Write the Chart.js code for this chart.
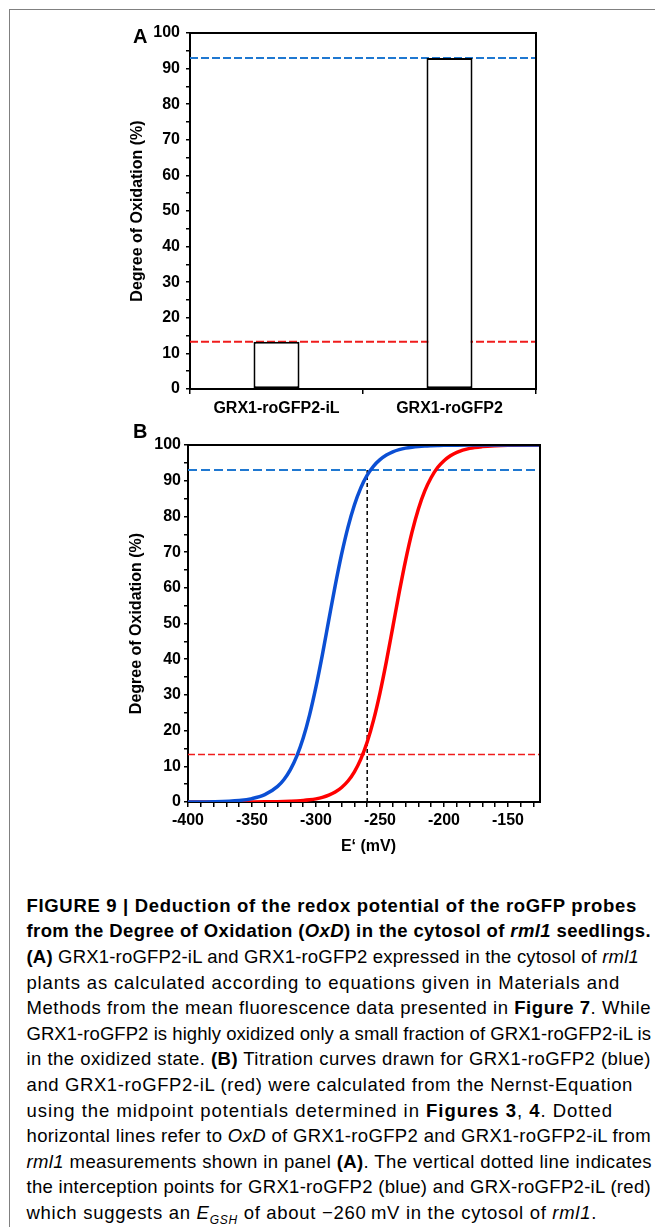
<!DOCTYPE html>
<html>
<head>
<meta charset="utf-8">
<script src="https://cdn.jsdelivr.net/npm/chart.js@4.4.0/dist/chart.umd.min.js"></script>
<style>
  html, body { margin: 0; padding: 0; background: #fff; }
  body { width: 655px; height: 1227px; position: relative; overflow: hidden; font-family: "Liberation Sans", Arial, sans-serif; color: #000; }
  .frame { position: absolute; left: 9px; top: 9px; width: 700px; height: 1300px; border-top: 1.5px solid #808080; border-left: 1.5px solid #808080; }
  canvas { position: absolute; left: 0; }
  #chartA { top: 0; }
  #chartB { top: 420px; }
  .panel { position: absolute; left: 133px; font-size: 20px; line-height: 20px; font-weight: bold; }
  .cap { position: absolute; left: 26.5px; font-size: 18.5px; line-height: 25.7px; white-space: nowrap; }
  .cap.h { font-weight: bold; }
</style>
</head>
<body>
<div class="frame"></div>
<canvas id="chartA" width="655" height="430"></canvas>
<canvas id="chartB" width="655" height="440"></canvas>
<div class="panel" style="top:26px">A</div>
<div class="panel" style="top:421px">B</div>

<div id="caption">
  <div class="cap h">FIGURE 9 | Deduction of the redox potential of the roGFP probes</div>
  <div class="cap h">from the Degree of Oxidation (<i>OxD</i>) in the cytosol of <i>rml1</i> seedlings.</div>
  <div class="cap"><b>(A)</b> GRX1-roGFP2-iL and GRX1-roGFP2 expressed in the cytosol of <i>rml1</i></div>
  <div class="cap">plants as calculated according to equations given in Materials and</div>
  <div class="cap">Methods from the mean fluorescence data presented in <b>Figure 7</b>. While</div>
  <div class="cap">GRX1-roGFP2 is highly oxidized only a small fraction of GRX1-roGFP2-iL is</div>
  <div class="cap">in the oxidized state. <b>(B)</b> Titration curves drawn for GRX1-roGFP2 (blue)</div>
  <div class="cap">and GRX1-roGFP2-iL (red) were calculated from the Nernst-Equation</div>
  <div class="cap">using the midpoint potentials determined in <b>Figures 3</b>, <b>4</b>. Dotted</div>
  <div class="cap">horizontal lines refer to <i>OxD</i> of GRX1-roGFP2 and GRX1-roGFP2-iL from</div>
  <div class="cap"><i>rml1</i> measurements shown in panel <b>(A)</b>. The vertical dotted line indicates</div>
  <div class="cap">the interception points for GRX1-roGFP2 (blue) and GRX-roGFP2-iL (red)</div>
  <div class="cap">which suggests an <i>E<sub style="font-size:12px">GSH</sub></i> of about &minus;260&#8201;mV in the cytosol of <i>rml1</i>.</div>
</div>

<script>
// Panel A: degree of oxidation of the two probes
const probes = ['GRX1-roGFP2-iL', 'GRX1-roGFP2'];
const oxdPercent = [13.3, 93.0];

// Panel B: titration curves (E' in mV vs OxD in %)
const potentialMv = [-400, -380, -360, -350, -340, -330, -325, -320, -315, -310, -305, -300, -295, -290,
  -285, -280, -275, -270, -265, -260, -255, -250, -245, -240, -235, -230, -225, -220, -215, -210,
  -205, -200, -195, -190, -180, -170, -160, -150, -125];
const oxdRoGFP2 = [0.02, 0.09, 0.44, 0.95, 2.05, 4.37, 6.3, 9.07, 12.85, 17.9, 24.4, 32.3, 41.3, 51.0,
  60.6, 69.4, 77.0, 83.2, 88.0, 91.55, 94.1, 95.9, 97.2, 98.1, 98.7, 99.12, 99.4, 99.6, 99.73, 99.81,
  99.87, 99.92, 99.94, 99.96, 99.98, 99.99, 100, 100, 100];
const oxdRoGFP2iL = [0, 0, 0.01, 0.02, 0.04, 0.09, 0.13, 0.19, 0.27, 0.40, 0.60, 0.88, 1.29, 1.90,
  2.78, 4.06, 5.88, 8.45, 12.0, 16.8, 23.0, 30.6, 39.4, 49.0, 58.7, 67.7, 75.6, 82.1, 87.15, 90.9,
  93.7, 95.6, 97.0, 97.95, 99.05, 99.56, 99.8, 99.91, 99.99];
const eGshMv = -260;
const xMin = -400, xMax = -125;
const yMin = 0, yMax = 100;

const blueCurve = '#0b4fd4';
const redCurve = '#ff0000';
const blueDash = '#1f78d1';
const redDash = '#f01c1c';

Chart.defaults.font.family = '"Liberation Sans", Arial, sans-serif';
Chart.defaults.color = '#000';

const tickFont = { size: 16, weight: 'bold' };

// closes the axis box: top and right edge of the plot area
const boxFrame = {
  id: 'boxFrame',
  afterDraw(chart) {
    const { ctx, chartArea: a } = chart;
    ctx.save();
    ctx.strokeStyle = '#000';
    ctx.lineWidth = 2;
    ctx.beginPath();
    ctx.moveTo(a.left - 1, a.top);
    ctx.lineTo(a.right, a.top);
    ctx.lineTo(a.right, a.bottom + 1);
    ctx.stroke();
    ctx.restore();
  }
};

// straight line segment between two data points (dashed guide lines)
function segment(p1, p2, color, width, dash, extra) {
  return Object.assign({
    type: 'line',
    data: [p1, p2],
    borderColor: color,
    borderWidth: width,
    borderDash: dash,
    pointRadius: 0,
    order: 1
  }, extra || {});
}

// ---- Panel A ----
new Chart(document.getElementById('chartA'), {
  type: 'bar',
  data: {
    labels: probes,
    datasets: [
      {
        xAxisID: 'x',
        data: oxdPercent,
        backgroundColor: '#fff',
        borderColor: '#000',
        borderWidth: 2,
        borderSkipped: false,
        grouped: false,
        categoryPercentage: 1,
        barPercentage: 0.266,
        order: 0
      },
      segment({ x: 0, y: oxdPercent[1] }, { x: 1, y: oxdPercent[1] }, blueDash, 2, [8, 3], { xAxisID: 'xTop' }),
      segment({ x: 0, y: oxdPercent[0] }, { x: 1, y: oxdPercent[0] }, redDash, 2, [8, 3], { xAxisID: 'xTop' })
    ]
  },
  plugins: [boxFrame],
  options: {
    responsive: false,
    animation: false,
    devicePixelRatio: 1,
    layout: { padding: { left: 0, top: 33, right: 119, bottom: 0 } },
    plugins: { legend: { display: false }, tooltip: { enabled: false } },
    scales: {
      x: {
        type: 'category',
        grid: { display: true, drawOnChartArea: false, offset: true, tickLength: 5, color: '#000', lineWidth: 1.5 },
        border: { display: true, color: '#000', width: 2 },
        ticks: { font: tickFont, padding: 5, autoSkip: false, maxRotation: 0 },
        afterFit: s => { s.height = 41; }
      },
      xTop: { type: 'linear', display: false, min: 0, max: 1, offset: false, grid: { offset: false } },
      y: {
        min: yMin, max: yMax,
        ticks: {
          stepSize: 5, autoSkip: false, font: tickFont, padding: 6,
          callback: v => (v % 10 === 0 ? String(v) : '')
        },
        grid: { drawOnChartArea: false, tickLength: 4, color: '#000', lineWidth: 1.5 },
        border: { display: true, color: '#000', width: 2 },
        title: { display: true, text: 'Degree of Oxidation (%)', font: tickFont, padding: { top: 128.4, bottom: 0 } },
        afterFit: s => { s.width = 190; }
      }
    }
  }
});

// ---- Panel B ----
const toPoints = ys => potentialMv.map((e, i) => ({ x: e, y: ys[i] }));

new Chart(document.getElementById('chartB'), {
  type: 'line',
  data: {
    datasets: [
      {
        data: toPoints(oxdRoGFP2),
        borderColor: blueCurve, borderWidth: 3.5,
        cubicInterpolationMode: 'monotone', pointRadius: 0, order: 0
      },
      {
        data: toPoints(oxdRoGFP2iL),
        borderColor: redCurve, borderWidth: 3.5,
        cubicInterpolationMode: 'monotone', pointRadius: 0, order: 0
      },
      segment({ x: xMin, y: oxdPercent[1] }, { x: xMax, y: oxdPercent[1] }, blueDash, 2, [9, 4]),
      segment({ x: xMin, y: oxdPercent[0] }, { x: xMax, y: oxdPercent[0] }, redDash, 1.5, [7, 3]),
      segment({ x: eGshMv, y: yMin }, { x: eGshMv, y: oxdPercent[1] }, '#000', 1.5, [4, 3])
    ]
  },
  plugins: [boxFrame],
  options: {
    responsive: false,
    animation: false,
    devicePixelRatio: 1,
    layout: { padding: { left: 0, top: 25, right: 115, bottom: 0 } },
    plugins: { legend: { display: false }, tooltip: { enabled: false } },
    scales: {
      x: {
        type: 'linear', min: xMin, max: xMax,
        ticks: {
          stepSize: 10, autoSkip: false, includeBounds: false, font: tickFont, padding: 4, maxRotation: 0,
          callback: v => (v % 50 === 0 ? String(v) : '')
        },
        grid: { drawOnChartArea: false, tickLength: 5, color: '#000', lineWidth: 1.5 },
        border: { display: true, color: '#000', width: 2 },
        title: { display: true, text: '  E\u2018 (mV)', font: tickFont, padding: { top: 0, bottom: 3.4 } },
        afterFit: s => { s.height = 58; }
      },
      y: {
        min: yMin, max: yMax,
        ticks: {
          stepSize: 5, autoSkip: false, font: tickFont, padding: 3,
          callback: v => (v % 10 === 0 ? String(v) : '')
        },
        grid: { drawOnChartArea: false, tickLength: 4, color: '#000', lineWidth: 1.5 },
        border: { display: true, color: '#000', width: 2 },
        title: { display: true, text: 'Degree of Oxidation (%)', font: tickFont, padding: { top: 127.1, bottom: 0 } },
        afterFit: s => { s.width = 188; }
      }
    }
  }
});

// Caption: place lines and stretch them to the measured right edges
const lineRight = [637, 651, 639, 620, 651, 651, 651, 633, 613, 651, 652, 651, 597];
const firstLineCenter = 905;
const lineStep = 25.6;
document.querySelectorAll('#caption .cap').forEach((line, i) => {
  line.style.top = (firstLineCenter + i * lineStep - 12.3) + 'px';
  const natural = line.getBoundingClientRect().width;
  const chars = line.textContent.length;
  const target = lineRight[i] - 26.5;
  line.style.letterSpacing = ((target - natural) / chars) + 'px';
});
</script>
</body>
</html>
